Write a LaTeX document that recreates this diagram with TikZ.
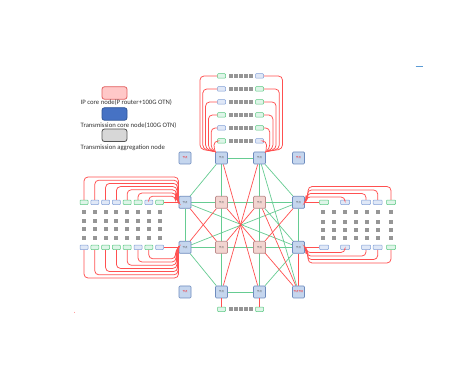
\documentclass[tikz,border=0pt]{standalone}
\usepackage{fontspec}
\setmainfont{Carlito}
\newfontfamily\cjk{Noto Sans CJK SC}
\usetikzlibrary{backgrounds}
\definecolor{gline}{RGB}{102,204,146}
\definecolor{rline}{RGB}{255,80,80}
\definecolor{bfill}{RGB}{197,214,238}
\definecolor{bdraw}{RGB}{110,140,190}
\definecolor{pfill}{RGB}{242,212,208}
\definecolor{pdraw}{RGB}{190,140,140}
\definecolor{sgfill}{RGB}{222,245,232}
\definecolor{sgdraw}{RGB}{90,200,130}
\definecolor{sbfill}{RGB}{224,232,247}
\definecolor{sbdraw}{RGB}{130,160,215}
\definecolor{sqc}{RGB}{150,150,150}
\definecolor{legpf}{RGB}{255,200,200}
\definecolor{legpd}{RGB}{225,95,95}
\definecolor{legbf}{RGB}{70,114,196}
\definecolor{legbd}{RGB}{47,85,151}
\definecolor{leggf}{RGB}{215,215,215}
\definecolor{leggd}{RGB}{85,85,85}
\definecolor{dashc}{RGB}{91,155,213}
\begin{document}
\begin{tikzpicture}[x=1pt,y=-1pt,
 core/.style={draw=bdraw,fill=bfill,line width=0.7pt,rounded corners=1pt,minimum size=12pt,inner sep=0pt,font=\cjk\fontsize{2.4}{2.4}\selectfont,text=black!70},
 iso/.style={core,text=red},
 ipn/.style={core,draw=pdraw,fill=pfill},
 sg/.style={draw=sgdraw,fill=sgfill,line width=0.5pt,rounded corners=0.8pt,minimum width=8pt,minimum height=4.5pt,inner sep=0pt},
 sb/.style={sg,draw=sbdraw,fill=sbfill},
 gsq/.style={fill=sqc,minimum size=4pt,inner sep=0pt},
 gl/.style={gline,line width=0.7pt},
 rl/.style={rline,line width=0.7pt},
 feed/.style={rline,line width=0.75pt,rounded corners=4pt},
 legbox/.style={rounded corners=2.5pt,minimum width=25pt,minimum height=12.5pt,line width=0.8pt,inner sep=0pt},
 legtxt/.style={anchor=west,inner sep=0pt,font=\fontsize{6.7}{7}\selectfont,text=black!80},
]
\useasboundingbox (0,0) rectangle (469,379);

% legend
\node[legbox,draw=legpd,fill=legpf] (lg1) at (114.5,93) {};
\node[legtxt] (lt1) at (80.5,102.5) {IP core node(P router+100G OTN)};
\node[legbox,draw=legbd,fill=legbf] (lg2) at (114.5,114) {};
\node[legtxt] (lt2) at (80.5,126) {Transmission core node(100G OTN)};
\node[legbox,draw=leggd,fill=leggf] (lg3) at (114.5,135.3) {};
\node[legtxt] (lt3) at (80.5,148) {Transmission aggregation node};

% main nodes
\node[core] (topL) at (221.5,158) {节点};
\node[core] (topR) at (259.5,158) {节点};
\node[iso] (isoTL) at (185,158) {节点};
\node[iso] (isoTR) at (298.5,158) {节点};
\node[core] (leftT) at (185,202.3) {节点};
\node[ipn] (pTL) at (221.5,202.3) {节点};
\node[ipn] (pTR) at (259.5,202.3) {节点};
\node[core] (rightT) at (298.5,202.3) {节点};
\node[core] (leftB) at (185,247.3) {节点};
\node[ipn] (pBL) at (221.5,247.3) {节点};
\node[ipn] (pBR) at (259.5,247.3) {节点};
\node[core] (rightB) at (298.5,247.3) {节点};
\node[iso] (isoBL) at (185,292) {节点};
\node[core] (botL) at (221.5,292) {节点};
\node[core] (botR) at (259.5,292) {节点};
\node[iso] (corner) at (298.5,292) {节点节点};

% mesh links
\begin{scope}[on background layer]
\fill[white] (0,0) rectangle (469,379);
\foreach \a/\b in {topL/topR,topL/leftT,topR/rightT,leftT/leftB,rightT/rightB,leftB/botL,rightB/botR,botL/botR,topL/botL,topR/botR,leftT/rightT,leftB/rightB,leftT/rightB,leftB/rightT,topR/corner,pTR/rightB}
  \draw[gl] (\a) -- (\b);
\foreach \a/\b in {topL/botR,topR/botL,leftT/pBL,leftB/pTL,rightT/pBR,pTR/pBL,pTL/corner,pTR/corner,rightB/corner}
  \draw[rl] (\a) -- (\b);
\end{scope}

% top feeders
\foreach \i/\y/\c/\d in {1/76/sg/sb,2/89/sb/sg,3/102/sb/sg,4/115/sg/sg,5/128/sb/sg,6/141/sg/sb}{
  \node[\c] (tl\i) at (221.5,\y) {};
  \node[\d] (tr\i) at (259.5,\y) {};
  \foreach \k in {0,...,4} \node[gsq] (tq\i\k) at (230.5+5*\k,\y) {};
  \draw[feed] (tl\i.west) -| ({200+(\i-1)*2.8},149) -- (topL.north west);
  \draw[feed] (tr\i.east) -| ({282.5-(\i-1)*3.2},149) -- (topR.north east);
}

% left feeders
\foreach \i/\c/\d in {1/sg/sb,2/sb/sg,3/sb/sg,4/sb/sg,5/sg/sg,6/sg/sb,7/sb/sg,8/sg/sb}{
  \node[\c] (lt\i) at ({84+10.8*(\i-1)},202.3) {};
  \node[\d] (lb\i) at ({84+10.8*(\i-1)},247.3) {};
  \foreach \r/\yy in {1/211.7,2/220.7,3/229.5,4/238.3} \node[gsq] (lq\i\r) at ({84+10.8*(\i-1)},\yy) {};
}
\foreach \i in {1,...,7}{
  \draw[feed] (lt\i.north) |- ({178.5-(\i-1)*0.5},{177+(\i-1)*3.2}) -- ({178.5-(\i-1)*0.5},199.5) -- (leftT.west);
  \draw[feed] (lb\i.south) |- ({178.5-(\i-1)*0.5},{278-(\i-1)*3.2}) -- ({178.5-(\i-1)*0.5},250) -- (leftB.west);
}
\draw[feed] (lt8.east) -- (leftT.west);
\draw[feed] (lb8.east) -- (leftB.west);

% right feeders
\foreach \j/\x/\c/\d in {1/324/sg/sb,2/345/sb/sb,3/366/sb/sb,4/377.7/sb/sb,5/391/sg/sg}{
  \node[\c,minimum width=9pt] (rt\j) at (\x,202.3) {};
  \node[\d,minimum width=9pt] (rb\j) at (\x,247.3) {};
}
\foreach \x in {323.3,334.3,345,356,366.7,378.3,391}
  \foreach \yy in {212.3,221.7,230,238.3} \node[gsq] at (\x,\yy) {};
\draw[feed] (rightT.east) -- (rt1.west);
\draw[feed] (rightB.east) -- (rb1.west);
\foreach \j in {2,...,5}{
  \draw[feed] (rightT.east) -- ({306+(\j-2)*0.7},199.5) -- ({306+(\j-2)*0.7},{197-(\j-2)*3.5}) -| (rt\j.north);
  \draw[feed] (rightB.east) -- ({306+(\j-2)*0.7},250) -- ({306+(\j-2)*0.7},{252.5+(\j-2)*3.5}) -| (rb\j.south);
}

% bottom feeders
\node[sg] (bl) at (221.5,309.3) {};
\node[sg] (br) at (259.5,309.3) {};
\foreach \k in {0,...,4} \node[gsq] (bq\k) at (230.5+5*\k,309.3) {};
\draw[rl] (botL) -- (bl);
\draw[rl] (botR) -- (br);

% stray marks
\draw[dashc,line width=0.6pt] (415.7,66.7) -- (423.3,66.7);
\fill[red!45] (74.5,312.5) circle (0.5);
\end{tikzpicture}
\end{document}
